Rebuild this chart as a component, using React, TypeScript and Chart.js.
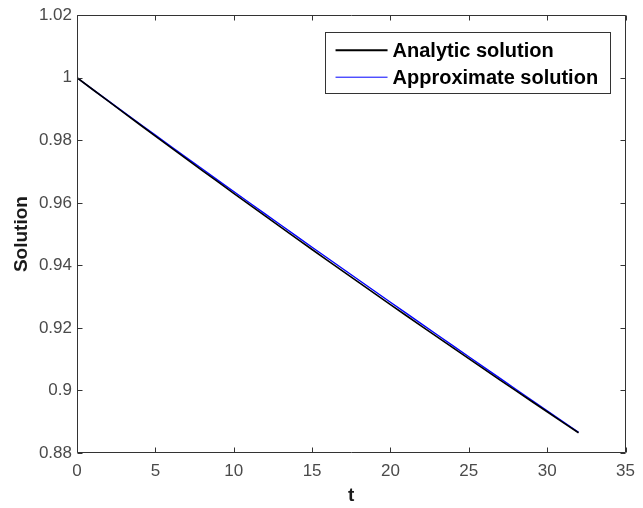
import React, { useEffect, useRef } from "react";
import { Chart, registerables } from "chart.js";

Chart.register(...registerables);

const tValues = [0, 1, 2, 3, 4, 5, 6, 7, 8, 9, 10, 11, 12, 13, 14, 15, 16, 17, 18, 19, 20, 21, 22, 23, 24, 25, 26, 27, 28, 29, 30, 31, 32];
const analytic = [1, 0.99624, 0.9925, 0.98876, 0.98505, 0.98135, 0.97766, 0.97399, 0.97033, 0.96668, 0.96305, 0.95943, 0.95582, 0.95223, 0.94865, 0.94508, 0.94153, 0.93799, 0.93447, 0.93096, 0.92746, 0.92397, 0.9205, 0.91704, 0.91359, 0.91016, 0.90674, 0.90333, 0.89993, 0.89655, 0.89318, 0.88982, 0.88648];
const approximate = [1, 0.9963, 0.99262, 0.98894, 0.98529, 0.98165, 0.97802, 0.97439, 0.9708, 0.96719, 0.96361, 0.96003, 0.95646, 0.95291, 0.94935, 0.94581, 0.94228, 0.93875, 0.93524, 0.93173, 0.92822, 0.92472, 0.92123, 0.91774, 0.91426, 0.91079, 0.90732, 0.90385, 0.90039, 0.89694, 0.89349, 0.89004, 0.8866];
const xTicks = [0, 5, 10, 15, 20, 25, 30, 35];
const yTicks = [0.88, 0.9, 0.92, 0.94, 0.96, 0.98, 1, 1.02];
const seriesNames = ["Analytic solution", "Approximate solution"];
const seriesColors = ["#000000", "#0000ff"];
const xTitle = "t";
const yTitle = "Solution";

const FRAME = "#333333";
const TICKLABEL = "#4a4a4a";
const FONT = "'Liberation Sans', Arial, sans-serif";

const framePlugin = {
  id: "matlabFrame",
  afterDatasetsDraw(chart: any) {
    const { ctx, chartArea, scales } = chart;
    const { left, right, top, bottom } = chartArea;
    const L = Math.round(left) + 0.5;
    const R = Math.round(right) - 0.5;
    const T = Math.round(top) + 0.5;
    const B = Math.round(bottom) - 0.5;
    ctx.save();
    ctx.strokeStyle = FRAME;
    ctx.lineWidth = 1;
    ctx.beginPath();
    ctx.rect(L, T, R - L, B - T);
    const tl = 5;
    xTicks.forEach((v) => {
      const px = Math.round(scales.x.getPixelForValue(v)) + 0.5;
      ctx.moveTo(px, B);
      ctx.lineTo(px, B - tl);
      ctx.moveTo(px, T);
      ctx.lineTo(px, T + tl);
    });
    yTicks.forEach((v) => {
      const py = Math.round(scales.y.getPixelForValue(v)) + 0.5;
      ctx.moveTo(L, py);
      ctx.lineTo(L + tl, py);
      ctx.moveTo(R, py);
      ctx.lineTo(R - tl, py);
    });
    ctx.stroke();
    ctx.restore();
  },
};

const legendPlugin = {
  id: "matlabLegend",
  afterDraw(chart: any) {
    const { ctx, chartArea } = chart;
    const boxRight = chartArea.right - 16;
    const boxLeft = boxRight - 285;
    const boxTop = chartArea.top + 17;
    const boxBottom = chartArea.top + 78;
    ctx.save();
    ctx.fillStyle = "#ffffff";
    ctx.fillRect(boxLeft, boxTop, boxRight - boxLeft, boxBottom - boxTop);
    ctx.strokeStyle = "#333333";
    ctx.lineWidth = 1;
    ctx.strokeRect(Math.round(boxLeft) + 0.5, Math.round(boxTop) + 0.5, Math.round(boxRight - boxLeft), Math.round(boxBottom - boxTop));
    const rows = [chartArea.top + 35, chartArea.top + 62];
    chart.data.datasets.forEach((ds: any, i: number) => {
      const y = rows[i];
      ctx.strokeStyle = ds.borderColor;
      ctx.lineWidth = i === 0 ? 2 : 1;
      ctx.beginPath();
      ctx.moveTo(boxLeft + 11, y);
      ctx.lineTo(boxLeft + 63, y);
      ctx.stroke();
      ctx.fillStyle = "#000000";
      ctx.font = `bold 20px ${FONT}`;
      ctx.textBaseline = "middle";
      ctx.textAlign = "left";
      ctx.fillText(ds.label, boxLeft + 68, y + 1);
    });
    ctx.restore();
  },
};

export default function App() {
  const ref = useRef<HTMLCanvasElement | null>(null);
  useEffect(() => {
    document.body.style.margin = "0";
    const canvas = ref.current!;
    const chart = new Chart(canvas, {
      type: "line",
      data: {
        datasets: [
          {
            label: seriesNames[0],
            data: tValues.map((t, i) => ({ x: t, y: analytic[i] })),
            borderColor: seriesColors[0],
            borderWidth: 1.6,
            pointRadius: 0,
            fill: false,
            tension: 0,
          },
          {
            label: seriesNames[1],
            data: tValues.map((t, i) => ({ x: t, y: approximate[i] })),
            borderColor: seriesColors[1],
            borderWidth: 1.4,
            pointRadius: 0,
            fill: false,
            tension: 0,
          },
        ],
      },
      options: {
        animation: false,
        responsive: false,
        devicePixelRatio: 1,
        layout: { padding: { top: 12, right: 8, left: 0, bottom: 0 } },
        plugins: { legend: { display: false }, tooltip: { enabled: false } },
        scales: {
          x: {
            type: "linear",
            min: 0,
            max: 35,
            afterFit: (s: any) => {
              s.height = 55;
            },
            afterBuildTicks: (s: any) => {
              s.ticks = xTicks.map((v) => ({ value: v }));
            },
            border: { display: false },
            grid: { display: false, drawTicks: false },
            ticks: {
              padding: 8,
              maxRotation: 0,
              autoSkip: false,
              color: TICKLABEL,
              font: { family: FONT, size: 17 },
              callback: (v: any) => String(v),
            },
            title: {
              display: true,
              text: xTitle,
              color: "#1a1a1a",
              font: { family: FONT, size: 19, weight: "bold" },
              padding: { top: 1, bottom: 1 },
            },
          },
          y: {
            type: "linear",
            min: 0.88,
            max: 1.02,
            afterFit: (s: any) => {
              s.width = 77;
            },
            afterBuildTicks: (s: any) => {
              s.ticks = yTicks.map((v) => ({ value: v }));
            },
            border: { display: false },
            grid: { display: false, drawTicks: false },
            ticks: {
              padding: 5,
              autoSkip: false,
              color: TICKLABEL,
              font: { family: FONT, size: 17 },
              callback: (v: any) => parseFloat(Number(v).toFixed(2)).toString(),
            },
            title: {
              display: true,
              text: yTitle,
              color: "#1a1a1a",
              font: { family: FONT, size: 19, weight: "bold" },
              padding: { top: 10, bottom: 10 },
            },
          },
        },
      },
      plugins: [framePlugin, legendPlugin],
    } as any);
    return () => chart.destroy();
  }, []);
  return (
    <div style={{ position: "absolute", left: 0, top: 0, width: 643, height: 508, background: "#fff" }}>
      <canvas ref={ref} width={643} height={508} style={{ width: 643, height: 508, display: "block" }} />
    </div>
  );
}
